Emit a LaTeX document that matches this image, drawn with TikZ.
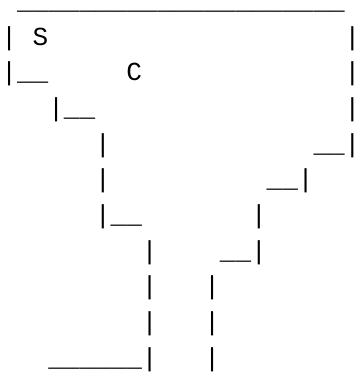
\documentclass[tikz,border=0pt]{standalone}
\usepackage{fontspec}
\setmonofont{Liberation Mono}

\begin{document}
\begin{tikzpicture}[
  x=15.6pt, y=-35.7pt,
  ch/.style={anchor=base west, inner sep=0pt, outer sep=0pt,
             font=\ttfamily\fontsize{26}{26}\selectfont},
]
\useasboundingbox (-1.5pt,9.3pt) rectangle ++(358pt,-372pt);

% top edge
\node[ch] (top) at (1,0) {\_\_\_\_\_\_\_\_\_\_\_\_\_\_\_\_\_\_\_\_\_};

% left wall, stepping down
\node[ch] (w1)  at (0,1)  {|};
\node[ch] (w2)  at (0,2)  {|\_\_};
\node[ch] (w3)  at (3,3)  {|\_\_};
\node[ch] (w4)  at (6,4)  {|};
\node[ch] (w5)  at (6,5)  {|};
\node[ch] (w6)  at (6,6)  {|\_\_};
\node[ch] (w7)  at (9,7)  {|};
\node[ch] (w8)  at (9,8)  {|};
\node[ch] (w9)  at (9,9)  {|};
\node[ch] (w10) at (3,10) {\_\_\_\_\_\_|};

% right wall, stepping down
\node[ch] (e1)  at (22,1)  {|};
\node[ch] (e2)  at (22,2)  {|};
\node[ch] (e3)  at (22,3)  {|};
\node[ch] (e4)  at (20,4)  {\_\_|};
\node[ch] (e5)  at (17,5)  {\_\_|};
\node[ch] (e6)  at (16,6)  {|};
\node[ch] (e7)  at (14,7)  {\_\_|};
\node[ch] (e8)  at (13,8)  {|};
\node[ch] (e9)  at (13,9)  {|};
\node[ch] (e10) at (13,10) {|};

% labels
\node[ch] (s) at (2,1) {S};
\node[ch] (c) at (8,2) {C};
\end{tikzpicture}
\end{document}
